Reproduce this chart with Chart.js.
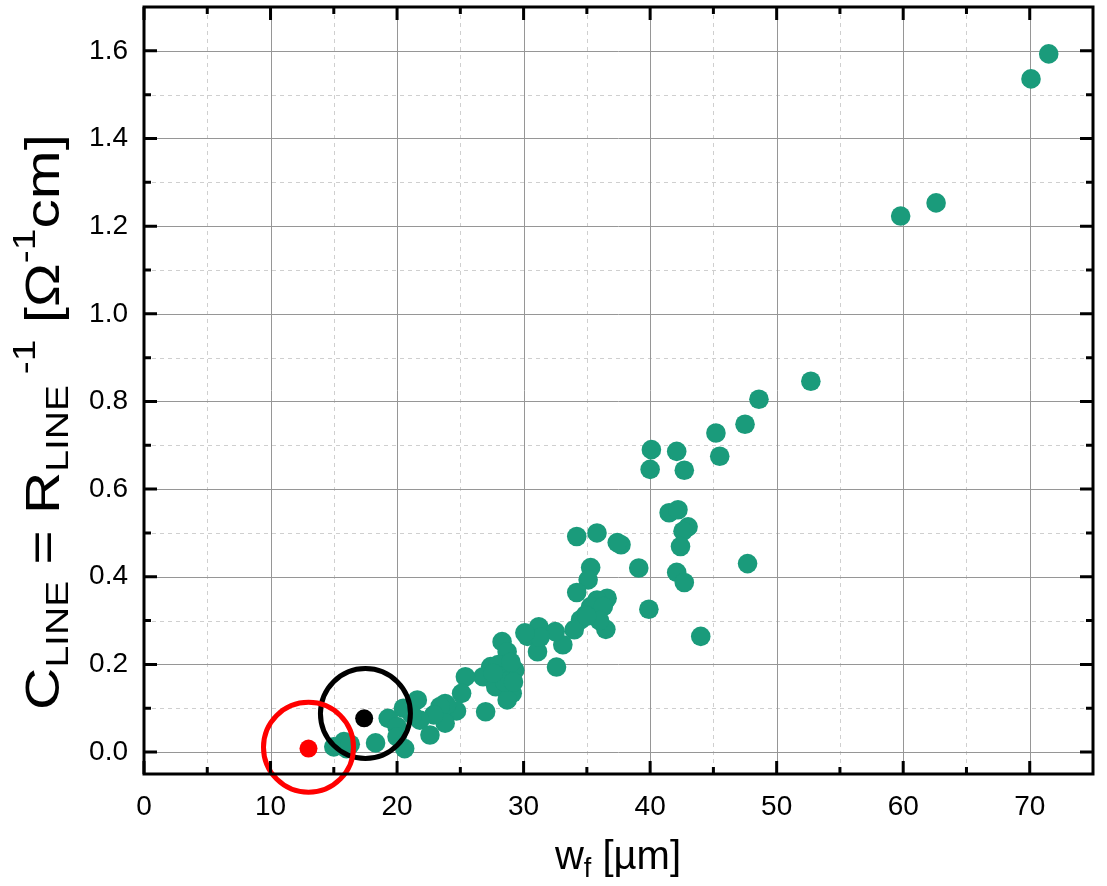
<!DOCTYPE html>
<html lang="en">
<head>
  <meta charset="UTF-8">
  <title>C_LINE vs w_f</title>
  <script src="https://cdn.jsdelivr.net/npm/chart.js"></script>
  <style>
    html, body { margin: 0; padding: 0; background: #fff; }
    #chart { display: block; }
  </style>
</head>
<body>
  <canvas id="chart" width="1107" height="886"></canvas>

  <script>
    // finger width wf [um] and line conductance [1/(Ohm cm)]
    const wf = [71.5, 70.1, 59.8, 62.6, 52.7, 48.6, 47.5, 45.2, 45.5, 42.1, 42.7, 40.1, 40.0,
      41.5, 42.2, 43.0, 42.6, 42.4, 47.7, 42.1, 42.7,
      34.2, 35.8, 37.7, 37.4, 39.1, 39.9, 44.0,
      35.3, 35.1, 34.2, 36.6, 35.8, 35.3, 34.9, 34.5, 36.3, 36.5, 34.0, 33.1, 36.0, 35.0,
      31.2, 30.3, 32.5, 31.1, 32.6, 31.3, 30.1,
      28.3, 28.7, 27.4, 29.3, 28.2, 26.8, 25.4, 29.1, 27.8, 28.7, 25.1, 23.8, 27.0, 24.7,
      28.0, 28.5, 27.6, 29.0, 29.2,
      23.9, 23.4, 23.8, 22.9, 21.6, 21.8, 22.6, 21.2, 20.5, 19.3, 20.0, 20.0, 20.6, 18.3,
      15.8, 15.0, 16.0, 16.3];
    const cline = [1.593, 1.536, 1.223, 1.253, 0.846, 0.805, 0.748, 0.728, 0.675, 0.686, 0.643, 0.690, 0.645,
      0.546, 0.553, 0.514, 0.504, 0.469, 0.430, 0.410, 0.387,
      0.492, 0.500, 0.473, 0.478, 0.420, 0.326, 0.264,
      0.421, 0.393, 0.364, 0.351, 0.347, 0.332, 0.313, 0.302, 0.332, 0.280, 0.279, 0.245, 0.300, 0.310,
      0.286, 0.264, 0.275, 0.229, 0.194, 0.262, 0.272,
      0.252, 0.229, 0.195, 0.187, 0.172, 0.172, 0.172, 0.134, 0.149, 0.119, 0.134, 0.111, 0.092, 0.094,
      0.200, 0.160, 0.180, 0.205, 0.160,
      0.107, 0.104, 0.066, 0.085, 0.119, 0.073, 0.039, 0.085, 0.100, 0.077, 0.058, 0.035, 0.008, 0.021,
      0.024, 0.012, 0.008, 0.018];

    // highlighted samples
    const redX = [13.0], redY = [0.008];
    const blackX = [17.4], blackY = [0.077];
    // marker rings around them
    const redRingX = [13.0], redRingY = [0.011];
    const blackRingX = [17.5], blackRingY = [0.088];

    const xTicks = [0, 10, 20, 30, 40, 50, 60, 70];
    const xMinor = [5, 15, 25, 35, 45, 55, 65];
    const yTicks = [0.0, 0.2, 0.4, 0.6, 0.8, 1.0, 1.2, 1.4, 1.6];
    const yMinor = [0.1, 0.3, 0.5, 0.7, 0.9, 1.1, 1.3, 1.5];

    const FONT = "'Liberation Sans', Arial, sans-serif";
    const pts = (xs, ys) => xs.map((x, i) => ({ x: x, y: ys[i] }));

    // grid, inward ticks and frame, Origin style
    const framePlugin = {
      id: 'frame',
      beforeDatasetsDraw(chart) {
        const { ctx, chartArea: a, scales: { x, y } } = chart;
        ctx.save();
        ctx.lineWidth = 1;
        ctx.strokeStyle = '#cfcfcf';
        ctx.setLineDash([4, 4]);
        xMinor.forEach(v => {
          const px = Math.round(x.getPixelForValue(v)) + 0.5;
          ctx.beginPath(); ctx.moveTo(px, a.top); ctx.lineTo(px, a.bottom); ctx.stroke();
        });
        yMinor.forEach(v => {
          const py = Math.round(y.getPixelForValue(v)) + 0.5;
          ctx.beginPath(); ctx.moveTo(a.left, py); ctx.lineTo(a.right, py); ctx.stroke();
        });
        ctx.setLineDash([]);
        ctx.strokeStyle = '#969696';
        xTicks.slice(1).forEach(v => {
          const px = Math.round(x.getPixelForValue(v)) + 0.5;
          ctx.beginPath(); ctx.moveTo(px, a.top); ctx.lineTo(px, a.bottom); ctx.stroke();
        });
        yTicks.forEach(v => {
          const py = Math.round(y.getPixelForValue(v)) + 0.5;
          ctx.beginPath(); ctx.moveTo(a.left, py); ctx.lineTo(a.right, py); ctx.stroke();
        });
        ctx.restore();
      },
      afterDatasetsDraw(chart) {
        const { ctx, chartArea: a, scales: { x, y } } = chart;
        ctx.save();
        ctx.strokeStyle = '#000';
        ctx.lineWidth = 3;
        ctx.strokeRect(a.left, a.top, a.right - a.left, a.bottom - a.top);
        const tick = (vals, len, horiz) => {
          vals.forEach(v => {
            ctx.beginPath();
            if (horiz) {
              const px = x.getPixelForValue(v);
              ctx.moveTo(px, a.bottom); ctx.lineTo(px, a.bottom - len);
              ctx.moveTo(px, a.top); ctx.lineTo(px, a.top + len);
            } else {
              const py = y.getPixelForValue(v);
              ctx.moveTo(a.left, py); ctx.lineTo(a.left + len, py);
              ctx.moveTo(a.right, py); ctx.lineTo(a.right - len, py);
            }
            ctx.stroke();
          });
        };
        tick(xTicks, 13, true);
        tick(xMinor, 7, true);
        tick(yTicks, 13, false);
        tick(yMinor, 7, false);
        ctx.restore();
      }
    };

    // axis titles with sub/superscripts
    function drawRich(ctx, parts, big, small) {
      const w = parts.map(p => {
        ctx.font = (p.k ? small : big) + 'px ' + FONT;
        return ctx.measureText(p.t).width;
      });
      let pos = -w.reduce((s, v) => s + v, 0) / 2;
      parts.forEach((p, i) => {
        ctx.font = (p.k ? small : big) + 'px ' + FONT;
        const dy = p.k === 'sub' ? big * 0.28 : p.k === 'sup' ? -big * 0.42 : 0;
        ctx.fillText(p.t, pos, dy);
        pos += w[i];
      });
    }

    const titlePlugin = {
      id: 'titles',
      afterDraw(chart) {
        const ctx = chart.ctx;
        ctx.save();
        ctx.fillStyle = '#000';
        ctx.textBaseline = 'middle';
        ctx.textAlign = 'left';
        ctx.translate(618, 858);
        drawRich(ctx, [{ t: 'w' }, { t: 'f', k: 'sub' }, { t: ' [\u00b5m]' }], 40, 27);
        ctx.restore();

        ctx.save();
        ctx.fillStyle = '#000';
        ctx.textBaseline = 'middle';
        ctx.textAlign = 'left';
        ctx.translate(46, 422);
        ctx.rotate(-Math.PI / 2);
        ctx.scale(1.22, 1);
        drawRich(ctx, [
          { t: 'C' }, { t: 'LINE', k: 'sub' }, { t: ' = R' }, { t: 'LINE', k: 'sub' },
          { t: ' -1', k: 'sup' }, { t: ' [\u03a9' }, { t: '-1', k: 'sup' }, { t: 'cm]' }
        ], 48, 32);
        ctx.restore();
      }
    };

    const axisTicks = vals => scale => { scale.ticks = vals.map(v => ({ value: v })); };

    new Chart(document.getElementById('chart'), {
      type: 'scatter',
      data: {
        datasets: [
          { data: pts(redRingX, redRingY), pointRadius: 45, borderWidth: 5, pointBorderWidth: 5, clip: false,
            borderColor: '#ff0000', backgroundColor: 'rgba(0,0,0,0)', order: 0 },
          { data: pts(blackRingX, blackRingY), pointRadius: 45, borderWidth: 5, pointBorderWidth: 5, clip: false,
            borderColor: '#000000', backgroundColor: 'rgba(0,0,0,0)', order: 0 },
          { data: pts(redX, redY), pointRadius: 9, pointBorderWidth: 0,
            backgroundColor: '#ff0000', order: 1 },
          { data: pts(blackX, blackY), pointRadius: 9, pointBorderWidth: 0,
            backgroundColor: '#000000', order: 1 },
          { data: pts(wf, cline), pointRadius: 9.8, pointBorderWidth: 0,
            backgroundColor: '#1a9b7b', order: 2 }
        ]
      },
      options: {
        responsive: false,
        animation: false,
        events: [],
        layout: { autoPadding: false, padding: { top: 7, right: 14, left: 0, bottom: 0 } },
        plugins: { legend: { display: false }, tooltip: { enabled: false } },
        scales: {
          x: {
            type: 'linear', min: 0, max: 75,
            afterBuildTicks: axisTicks(xTicks),
            afterFit: s => { s.height = 112; s.paddingLeft = 0; s.paddingRight = 0; },
            grid: { display: false, drawTicks: false },
            border: { display: false },
            ticks: { color: '#000', padding: 16, font: { family: FONT, size: 28 } }
          },
          y: {
            type: 'linear', min: -0.05, max: 1.7,
            afterBuildTicks: axisTicks(yTicks),
            afterFit: s => { s.width = 144; s.paddingTop = 0; s.paddingBottom = 0; },
            grid: { display: false, drawTicks: false },
            border: { display: false },
            ticks: { color: '#000', padding: 16, font: { family: FONT, size: 28 },
              callback: v => v.toFixed(1) }
          }
        }
      },
      plugins: [framePlugin, titlePlugin]
    });
  </script>
</body>
</html>
